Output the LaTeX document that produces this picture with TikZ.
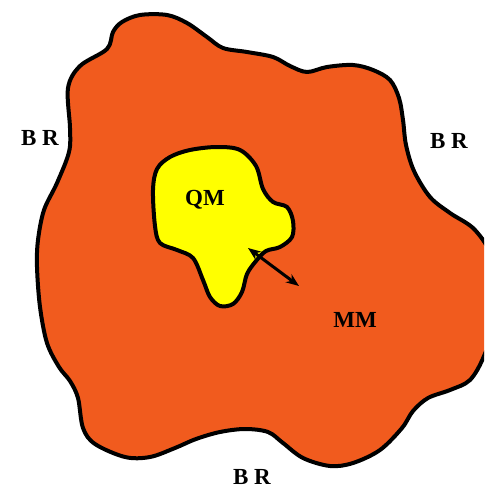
\documentclass[tikz,border=0pt]{standalone}
\usepackage{fontspec}
\setmainfont{Liberation Serif}
\usetikzlibrary{arrows.meta}
\definecolor{mmOrange}{RGB}{241, 91, 30}
\definecolor{qmYellow}{RGB}{255, 255, 0}
\tikzset{
  region/.style={line width=4pt, line join=round},
  lab/.style={font=\fontsize{23}{23}\selectfont\bfseries, inner sep=0pt}
}
\begin{document}
\begin{tikzpicture}[x=1pt, y=-1pt]
\useasboundingbox (0,0) rectangle (484,492);
\clip (0,0) rectangle (484,492);
% outer MM region
\draw[region, fill=mmOrange] plot[smooth cycle, tension=0.55] coordinates {
  (140,15) (167,15) (187,23) (207,37) (223,48) (247,52) (273,57) (290,66)
  (307,72) (327,67) (353,65) (373,70) (390,80) (399,98) (403,120) (406,145)
  (414,171) (430,197) (450,213) (475,230) (492,260) (495,320) (484,356)
  (470,380) (450,390) (428,398) (413,411) (402,428) (380,450) (353,463)
  (330,466) (303,458) (283,443) (268,432) (245,429) (220,432) (196,439)
  (175,448) (150,457) (125,457) (95,444) (83,428) (78,398) (70,381)
  (59,367) (47,343) (40,307) (37,267) (38,240) (44,210) (57,183) (69,152)
  (70,128) (68,88) (80,66) (107,49) (113,32) (122,22)};
% inner QM region
\draw[region, fill=qmYellow] plot[smooth cycle, tension=0.55] coordinates {
  (157,169) (170,157) (190,150) (217,147) (240,150) (256,166) (263,189)
  (273,202) (287,207) (293,221) (292,237) (280,247) (266,251) (256,261)
  (247,274) (242,292) (233,304) (220,306) (210,297) (203,280) (193,258)
  (177,250) (160,243) (155,226) (153,190)};
% coupling arrow
\coordinate (qmEnd) at (248,248);
\coordinate (mmEnd) at (299,286);
\draw[line width=3pt, {Stealth[length=13pt,width=10pt]}-{Stealth[length=13pt,width=10pt]}] (qmEnd) -- (mmEnd);
% labels
\node[lab] (qm) at (205,200) {QM};
\node[lab] (mm) at (355,320) {MM};
\node[lab] (brLeft) at (40,138) {B R};
\node[lab] (brRight) at (449,141) {B R};
\node[lab] (brBottom) at (252,477) {B R};
\end{tikzpicture}
\end{document}
